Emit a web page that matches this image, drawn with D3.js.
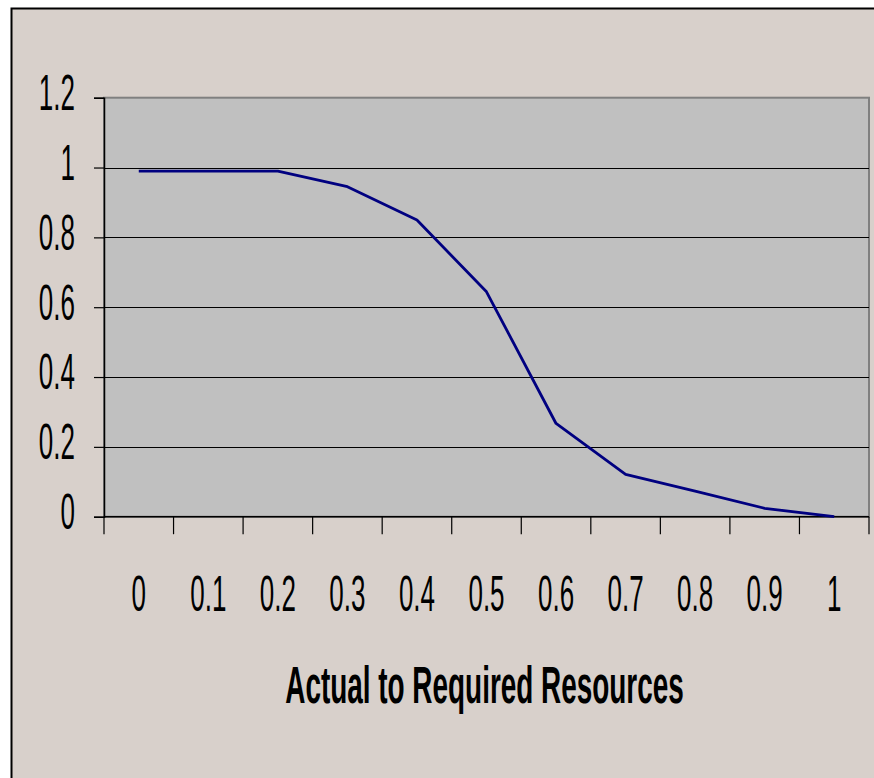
<!DOCTYPE html>
<html>
<head>
<meta charset="utf-8">
<script src="https://cdn.jsdelivr.net/npm/d3@7"></script>
<style>
  html, body { margin: 0; padding: 0; background: #ffffff; }
  svg { display: block; }
  text { font-family: "Liberation Sans", Arial, sans-serif; fill: #000; }
</style>
</head>
<body>
<svg id="chart" width="874" height="778"></svg>
<script>
// ---- data ----
const categories = ["0", "0.1", "0.2", "0.3", "0.4", "0.5", "0.6", "0.7", "0.8", "0.9", "1"];
const values = [0.99, 0.99, 0.99, 0.945, 0.85, 0.644, 0.267, 0.121, 0.073, 0.024, 0.0];
const yTicks = [0, 0.2, 0.4, 0.6, 0.8, 1, 1.2];
const yTickLabels = ["0", "0.2", "0.4", "0.6", "0.8", "1", "1.2"];
const xTitle = "Actual to Required Resources";

// ---- layout ----
const W = 874, H = 778;
const plot = { left: 104, right: 869, top: 97.7, bottom: 516.7 };
const svg = d3.select("#chart");

// chart area (beige) with black border, extending beyond picture right/bottom
svg.append("rect")
  .attr("x", 11.5).attr("y", 8.5)
  .attr("width", W + 20).attr("height", H + 20)
  .attr("fill", "#d8d0cb")
  .attr("stroke", "#000").attr("stroke-width", 2);

const x = d3.scaleBand().domain(categories).range([plot.left, plot.right]).padding(0);
const y = d3.scaleLinear().domain([0, 1.2]).range([plot.bottom, plot.top]);

// plot area
svg.append("rect")
  .attr("x", plot.left).attr("y", plot.top)
  .attr("width", plot.right - plot.left).attr("height", plot.bottom - plot.top)
  .attr("fill", "#c0c0c0")
  .attr("stroke", "#808080").attr("stroke-width", 2);

// gridlines
svg.append("g").selectAll("line")
  .data(yTicks.filter(v => v > 0 && v < 1.2))
  .join("line")
  .attr("x1", plot.left).attr("x2", plot.right)
  .attr("y1", d => Math.round(y(d)) + 0.5).attr("y2", d => Math.round(y(d)) + 0.5)
  .attr("stroke", "#000").attr("stroke-width", 1.2);

// y axis
const yAxis = svg.append("g")
  .attr("transform", `translate(${plot.left},0)`)
  .call(d3.axisLeft(y).tickValues(yTicks).tickSize(10).tickFormat(""));
yAxis.select(".domain").attr("stroke", "#000").attr("stroke-width", 1.5);
yAxis.selectAll(".tick line").attr("stroke", "#000").attr("stroke-width", 1.2);

// y tick labels (condensed)
const sx = 0.52;
svg.append("g").selectAll("g")
  .data(yTicks)
  .join("g")
  .attr("transform", (d) => `translate(75,${y(d) + 12.4}) scale(${sx},1)`)
  .append("text")
  .attr("text-anchor", "end")
  .attr("font-size", 50)
  .text((d, i) => yTickLabels[i]);

// x axis line
svg.append("line")
  .attr("x1", plot.left).attr("x2", plot.right)
  .attr("y1", plot.bottom).attr("y2", plot.bottom)
  .attr("stroke", "#000").attr("stroke-width", 1.5);

// x ticks at category boundaries
const boundaries = categories.map(c => x(c)).concat([x(categories[categories.length - 1]) + x.bandwidth()]);
svg.append("g").selectAll("line")
  .data(boundaries)
  .join("line")
  .attr("x1", d => d).attr("x2", d => d)
  .attr("y1", plot.bottom).attr("y2", plot.bottom + 17.5)
  .attr("stroke", "#000").attr("stroke-width", 1.2);

// x tick labels
svg.append("g").selectAll("g")
  .data(categories)
  .join("g")
  .attr("transform", d => `translate(${x(d) + x.bandwidth() / 2},610.7) scale(${sx},1)`)
  .append("text")
  .attr("text-anchor", "middle")
  .attr("font-size", 50)
  .text(d => d);

// line
const line = d3.line()
  .x((d, i) => x(categories[i]) + x.bandwidth() / 2)
  .y(d => y(d));
svg.append("path")
  .datum(values)
  .attr("d", line)
  .attr("fill", "none")
  .attr("stroke", "#000080")
  .attr("stroke-width", 2.8)
  .attr("stroke-linejoin", "round");

// axis title
svg.append("g")
  .attr("transform", `translate(484.5,703) scale(0.54,1)`)
  .append("text")
  .attr("text-anchor", "middle")
  .attr("font-size", 51.7)
  .attr("font-weight", "bold")
  .text(xTitle);
</script>
</body>
</html>
